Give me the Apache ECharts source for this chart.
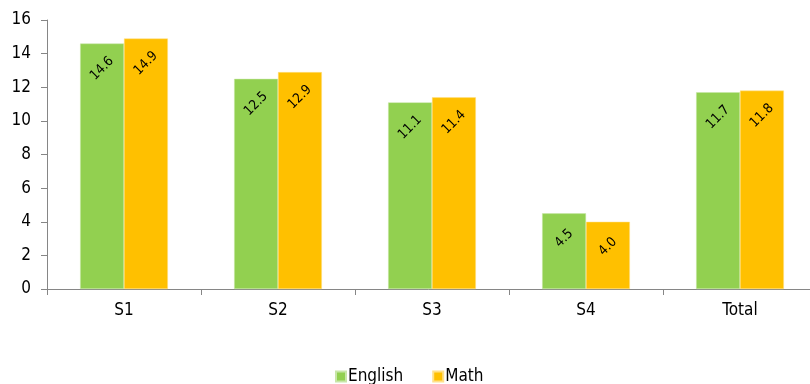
<!DOCTYPE html>
<html>
<head>
<meta charset="utf-8">
<script src="https://cdn.jsdelivr.net/npm/echarts@6/dist/echarts.min.js"></script>
<style>
  html, body { margin: 0; padding: 0; background: #fff; }
  #chart { width: 810px; height: 384px; }
</style>
</head>
<body>
<div id="chart"></div>
<script>
// Average scores per stage, by subject
const categories = ['S1', 'S2', 'S3', 'S4', 'Total'];
const english = [14.6, 12.5, 11.1, 4.5, 11.7];
const math = [14.9, 12.9, 11.4, 4.0, 11.8];
const yTicks = { min: 0, max: 16, interval: 2 };

const FONT = '"DejaVu Sans Condensed", "DejaVu Sans", sans-serif';

const chart = echarts.init(document.getElementById('chart'), null, { renderer: 'canvas' });

const barLabel = {
  show: true,
  position: ['50%', 25],
  align: 'center',
  verticalAlign: 'middle',
  rotate: 45,
  fontFamily: FONT,
  fontSize: 13.5,
  color: '#000',
  formatter: p => p.value.toFixed(1)
};

chart.setOption({
  animation: false,
  backgroundColor: '#fff',
  grid: { left: 47, top: 20, width: 770, height: 269, containLabel: false, outerBoundsMode: 'none' },
  legend: {
    data: ['English', 'Math'],
    left: 330,
    top: 363,
    icon: 'rect',
    itemWidth: 10,
    itemHeight: 10,
    itemGap: 29,
    textStyle: { fontFamily: FONT, fontSize: 17, color: '#000', padding: [0, 0, 0, -3] }
  },
  xAxis: {
    type: 'category',
    data: categories,
    axisLine: { lineStyle: { color: '#868686', width: 1 } },
    axisTick: { show: true, length: 6, lineStyle: { color: '#868686' } },
    axisLabel: { fontFamily: FONT, fontSize: 17, color: '#000', margin: 13 }
  },
  yAxis: {
    type: 'value',
    min: yTicks.min,
    max: yTicks.max,
    interval: yTicks.interval,
    splitLine: { show: false },
    axisLine: { show: true, lineStyle: { color: '#868686', width: 1 } },
    axisTick: { show: true, length: 6, lineStyle: { color: '#868686' } },
    axisLabel: { fontFamily: FONT, fontSize: 17, color: '#000', margin: 16 }
  },
  series: [
    {
      name: 'English',
      type: 'bar',
      data: english,
      barGap: '0%',
      barCategoryGap: '43%',
      itemStyle: { color: '#92D050', borderColor: '#c8e6a8', borderWidth: 0.5 },
      label: barLabel
    },
    {
      name: 'Math',
      type: 'bar',
      data: math,
      barGap: '0%',
      barCategoryGap: '43%',
      itemStyle: { color: '#FFC000', borderColor: '#ffe08a', borderWidth: 0.5 },
      label: barLabel
    }
  ]
});
</script>
</body>
</html>
